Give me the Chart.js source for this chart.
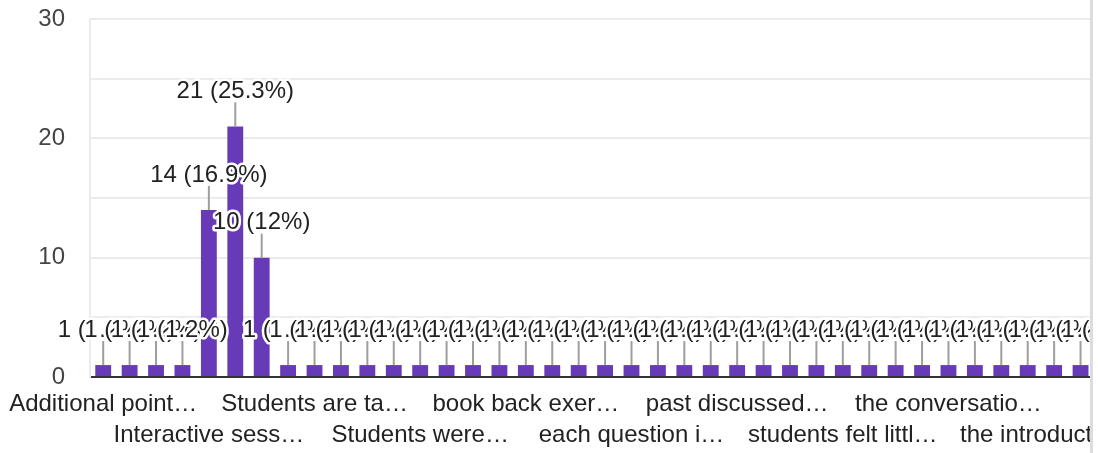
<!DOCTYPE html>
<html>
<head>
<meta charset="utf-8">
<script src="https://cdn.jsdelivr.net/npm/chart.js@4/dist/chart.umd.min.js"></script>
<style>
  html, body { margin: 0; padding: 0; background: #fff; }
  #wrap { width: 1090px; height: 453px; overflow: hidden; border-right: 3px solid #dadce0; }
  canvas { display: block; }
</style>
</head>
<body>
<div id="wrap"><canvas id="chart" width="1173" height="453"></canvas></div>
<script>
// responses (sorted as in the form summary)
const categories = [
  'Additional points were given',
  'All the doubts were cleared',
  'Clear explanation of concepts',
  'Good',
  'Interactive session',
  'Nice',
  'Satisfied',
  'Some more examples needed',
  'Students are taught with examples',
  'Students enjoyed the class',
  'Students understood the topic',
  'Students were active',
  'Students were actively participating',
  'Teaching was clear',
  'The class was useful',
  'Very good session',
  'book back exercises were solved',
  'concepts were explained well',
  'doubts were clarified',
  'easy to understand',
  'each question is explained',
  'examples were useful',
  'good interaction',
  'more practice is needed',
  'past discussed topics revised',
  'real life examples given',
  'slow and clear teaching',
  'students asked questions',
  'students felt little difficult',
  'students were attentive',
  'summary was given at the end',
  'teaching aids were used',
  'the conversation was good',
  'the examples were relevant',
  'the explanation was clear',
  'the flow of the class was good',
  'the introduction was good',
  'the lesson was interesting',
  'the pace was good',
  'topic was well covered',
  'well done'
];
const counts = [
  1, 1, 1, 1, 14, 21, 10, 1, 1, 1, 1, 1, 1, 1, 1, 1, 1, 1, 1, 1, 1,
  1, 1, 1, 1, 1, 1, 1, 1, 1, 1, 1, 1, 1, 1, 1, 1, 1, 1, 1, 1
];
const yTicks = [0, 10, 20, 30];

const total = counts.reduce((a, b) => a + b, 0);
const FONT = '"Liberation Sans", Arial, sans-serif';

const measureCtx = document.createElement('canvas').getContext('2d');
measureCtx.font = '24px ' + FONT;
function shorten(text, maxW) {
  if (measureCtx.measureText(text).width <= maxW) return text;
  let s = text;
  while (s.length > 1 && measureCtx.measureText(s + '…').width > maxW) s = s.slice(0, -1);
  return s.trimEnd() + '…';
}

function pct(v) {
  let p = (v / total * 100).toFixed(1);
  if (p.endsWith('.0')) p = p.slice(0, -2);
  return v + ' (' + p + '%)';
}

// value labels with leader lines, drawn over the bars
const valueLabels = {
  id: 'valueLabels',
  afterDatasetsDraw(chart) {
    const ctx = chart.ctx;
    const bars = chart.getDatasetMeta(0).data;
    ctx.save();
    ctx.strokeStyle = '#9e9e9e';
    ctx.lineWidth = 2;
    bars.forEach(b => {
      ctx.beginPath();
      ctx.moveTo(b.x, b.y - 24);
      ctx.lineTo(b.x, b.y);
      ctx.stroke();
    });
    ctx.font = '24px ' + FONT;
    ctx.textAlign = 'center';
    ctx.textBaseline = 'middle';
    ctx.lineJoin = 'round';
    bars.forEach((b, i) => {
      const t = pct(counts[i]);
      ctx.strokeStyle = '#fff';
      ctx.lineWidth = 5;
      ctx.strokeText(t, b.x, b.y - 35);
      ctx.fillStyle = '#222';
      ctx.fillText(t, b.x, b.y - 35);
    });
    ctx.restore();
  }
};

new Chart(document.getElementById('chart'), {
  type: 'bar',
  data: {
    labels: categories,
    datasets: [{
      data: counts,
      backgroundColor: '#673ab7',
      barPercentage: 0.6,
      categoryPercentage: 1
    }]
  },
  options: {
    responsive: false,
    animation: false,
    events: [],
    layout: { padding: { top: 19, right: 0, bottom: 0, left: 0 } },
    plugins: { legend: { display: false }, tooltip: { enabled: false } },
    scales: {
      x: {
        grid: { display: false, drawTicks: false },
        border: { color: '#333', width: 2 },
        ticks: {
          autoSkip: false,
          maxRotation: 0,
          minRotation: 0,
          padding: 12,
          color: '#222',
          font: { size: 24, family: FONT, lineHeight: 1.3 },
          callback: (v, i) => {
            if (i % 4 !== 0) return '';
            const t = shorten(categories[i], 192);
            return (i / 4) % 2 === 0 ? t : ['', t];
          }
        },
        afterFit: s => {
          s.height = 76;
          s.paddingLeft = 0;
          s.paddingRight = 0;
        }
      },
      y: {
        min: 0,
        max: 30,
        grid: {
          drawTicks: false,
          color: c => c.tick.value === 0 ? '#333' : '#ebebeb',
          lineWidth: 2
        },
        border: { color: '#ebebeb', width: 2 },
        ticks: {
          stepSize: 5,
          padding: 25,
          color: '#444',
          font: { size: 24, family: FONT },
          callback: v => yTicks.includes(v) ? v : ''
        },
        afterFit: s => {
          s.width = 90;
          s.paddingTop = 0;
          s.paddingBottom = 0;
        }
      }
    }
  },
  plugins: [valueLabels]
});
</script>
</body>
</html>
